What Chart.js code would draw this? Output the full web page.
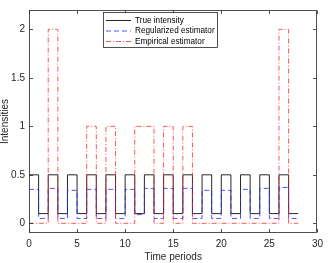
<!DOCTYPE html>
<html>
<head>
<meta charset="utf-8">
<script src="https://cdn.jsdelivr.net/npm/chart.js@4.4.0/dist/chart.umd.min.js"></script>
<style>
  html, body { margin: 0; padding: 0; background: #fff; }
  canvas { display: block; }
</style>
</head>
<body>
<canvas id="intensity" width="328" height="263"></canvas>
<script>
const times = [0, 1, 2, 3, 4, 5, 6, 7, 8, 9, 10, 11, 12, 13, 14, 15, 16, 17, 18, 19, 20, 21, 22, 23, 24, 25, 26, 27, 28];
const trueIntensity = [0.5, 0.1, 0.5, 0.1, 0.5, 0.1, 0.5, 0.1, 0.5, 0.1, 0.5, 0.1, 0.5, 0.1, 0.5, 0.1, 0.5, 0.1, 0.5, 0.1, 0.5, 0.1, 0.5, 0.1, 0.5, 0.1, 0.5, 0.1, 0.1];
const regularized = [0.35, 0.05, 0.36, 0.05, 0.34, 0.05, 0.35, 0.05, 0.35, 0.05, 0.35, 0.09, 0.36, 0.05, 0.36, 0.05, 0.36, 0.05, 0.34, 0.05, 0.34, 0.05, 0.35, 0.05, 0.36, 0.05, 0.37, 0.05, 0.05];
const empirical = [0, 0, 2, 0, 0, 0, 1, 0, 1, 0, 0, 1, 1, 0, 1, 0, 1, 0, 0, 0, 0, 0, 0, 0, 0, 0, 2, 0, 0];
const xTicks = [0, 5, 10, 15, 20, 25, 30];
const yTicks = [0, 0.5, 1, 1.5, 2];
const seriesNames = ['True intensity', 'Regularized estimator', 'Empirical estimator'];

const fontFamily = '"Liberation Sans", Arial, sans-serif';
const axisColor = '#262626';

function toPoints(values) {
    return times.map((t, i) => ({x: t, y: values[i]}));
}

// matlab style box with inward ticks
const boxPlugin = {
    id: 'box',
    afterDraw(chart) {
        const ctx = chart.ctx;
        const a = chart.chartArea;
        const xs = chart.scales.x, ys = chart.scales.y;
        const L = Math.round(a.left) + 0.5, R = Math.round(a.right) - 0.5;
        const T = Math.round(a.top) + 0.5, B = Math.round(a.bottom) - 0.5;
        ctx.save();
        ctx.strokeStyle = axisColor;
        ctx.lineWidth = 0.8;
        ctx.strokeRect(L, T, R - L, B - T);
        ctx.beginPath();
        for (let v of xTicks) {
            const px = Math.round(xs.getPixelForValue(v)) + 0.5;
            ctx.moveTo(px, B); ctx.lineTo(px, B - 3.5);
            ctx.moveTo(px, T); ctx.lineTo(px, T + 3.5);
        }
        for (let v of yTicks) {
            const py = Math.round(ys.getPixelForValue(v)) + 0.5;
            ctx.moveTo(L, py); ctx.lineTo(L + 3.5, py);
            ctx.moveTo(R, py); ctx.lineTo(R - 3.5, py);
        }
        ctx.stroke();

        // legend inside the axes
        const bx = 103.5, by = 12.5, bw = 114, bh = 35;
        ctx.fillStyle = '#fff';
        ctx.fillRect(bx, by, bw, bh);
        ctx.strokeStyle = axisColor;
        ctx.lineWidth = 0.8;
        ctx.strokeRect(bx, by, bw, bh);
        ctx.font = '8.2px ' + fontFamily;
        ctx.textBaseline = 'middle';
        chart.data.datasets.forEach((ds, i) => {
            const ly = 20.5 + i * 10.5;
            ctx.beginPath();
            ctx.strokeStyle = ds.borderColor;
            ctx.lineWidth = ds.borderWidth;
            ctx.setLineDash(ds.borderDash || []);
            ctx.moveTo(106, ly); ctx.lineTo(131, ly);
            ctx.stroke();
            ctx.setLineDash([]);
            ctx.fillStyle = '#000';
            ctx.fillText(ds.label, 135, ly);
        });
        ctx.restore();
    }
};

const chart = new Chart(document.getElementById('intensity'), {
    type: 'line',
    data: {
        datasets: [
            {label: seriesNames[0], data: toPoints(trueIntensity), borderColor: 'rgba(0,0,0,0.85)', borderWidth: 1, stepped: 'before', pointRadius: 0, order: 2},
            {label: seriesNames[1], data: toPoints(regularized), borderColor: 'rgba(40,40,255,0.8)', borderWidth: 1, borderDash: [5, 3], stepped: 'before', pointRadius: 0, order: 1},
            {label: seriesNames[2], data: toPoints(empirical), borderColor: 'rgba(255,30,30,0.75)', borderWidth: 1, borderDash: [5, 2, 1, 2], stepped: 'before', pointRadius: 0, order: 0}
        ]
    },
    options: {
        responsive: false,
        animation: false,
        devicePixelRatio: 1,
        layout: {padding: {top: 0, right: 5, left: 0, bottom: 0}},
        plugins: {legend: {display: false}, tooltip: {enabled: false}},
        scales: {
            x: {
                type: 'linear', min: 0, max: 30,
                grid: {display: false, drawTicks: false},
                border: {display: false},
                afterBuildTicks: (s) => { s.ticks = xTicks.map(v => ({value: v})); },
                afterFit: (s) => { s.height = 30; },
                ticks: {color: axisColor, font: {family: fontFamily, size: 10}, padding: 5, maxRotation: 0, callback: (v) => String(v)},
                title: {display: true, text: 'Time periods', color: axisColor, font: {family: fontFamily, size: 10}, padding: {top: 0, bottom: 0}}
            },
            y: {
                type: 'linear', min: -0.1, max: 2.2,
                grid: {display: false, drawTicks: false},
                border: {display: false},
                afterBuildTicks: (s) => { s.ticks = yTicks.map(v => ({value: v})); },
                afterFit: (s) => { s.width = 29; },
                ticks: {color: axisColor, font: {family: fontFamily, size: 10}, padding: 4, callback: (v) => String(v)},
                title: {display: true, text: 'Intensities', color: axisColor, font: {family: fontFamily, size: 10}, padding: {top: -1, bottom: 0}}
            }
        }
    },
    plugins: [boxPlugin]
});
</script>
</body>
</html>
